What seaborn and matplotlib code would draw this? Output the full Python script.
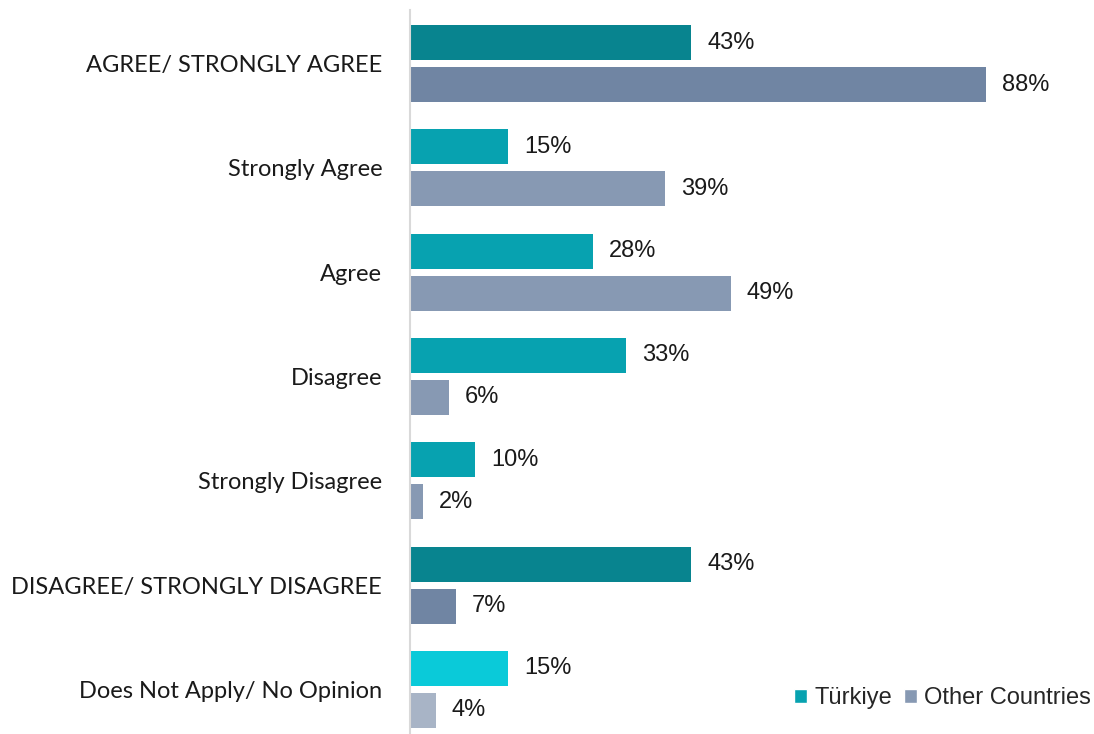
import pandas as pd
import numpy as np
import matplotlib.pyplot as plt
import seaborn as sns
from matplotlib.patches import Patch

categories = ["AGREE/ STRONGLY AGREE", "Strongly Agree", "Agree", "Disagree",
              "Strongly Disagree", "DISAGREE/ STRONGLY DISAGREE", "Does Not Apply/ No Opinion"]
turkiye = [43, 15, 28, 33, 10, 43, 15]
other = [88, 39, 49, 6, 2, 7, 4]
groups = ["Türkiye", "Other Countries"]

turkiye_colors = ["#08848F", "#07A2B0", "#07A2B0", "#07A2B0", "#07A2B0", "#08848F", "#0ACAD9"]
other_colors = ["#7085A3", "#8799B3", "#8799B3", "#8799B3", "#8799B3", "#7085A3", "#A8B4C6"]

df = pd.DataFrame({
    "Category": categories * 2,
    "Value": turkiye + other,
    "Group": [groups[0]] * len(categories) + [groups[1]] * len(categories),
})

sns.set_style("white")
plt.rcParams["font.family"] = ["Liberation Sans", "DejaVu Sans"]
num_font = ["Liberation Sans", "DejaVu Sans"]

fig = plt.figure(figsize=(10.94, 7.34), dpi=100)
ax = fig.add_axes([410 / 1094, 0.0, 1 - 410 / 1094, 1 - 10 / 734])

sns.barplot(data=df, y="Category", x="Value", hue="Group", order=categories,
            hue_order=groups, orient="h", width=0.805, gap=0.167, legend=False, ax=ax)

# per-row colours
for bar, c in zip(ax.containers[0], turkiye_colors):
    bar.set_facecolor(c)
    bar.set_edgecolor("none")
for bar, c in zip(ax.containers[1], other_colors):
    bar.set_facecolor(c)
    bar.set_edgecolor("none")

# value labels
for cont in ax.containers:
    for bar in cont:
        w = bar.get_width()
        ax.text(w + 2.4, bar.get_y() + bar.get_height() / 2, f"{w:.0f}%",
                va="center", ha="left", fontsize=17, color="#1a1a1a", family=num_font)

ax.set_xlim(0, 104.5)
ax.set_ylim(6.427, -0.513)
ax.set_xlabel("")
ax.set_ylabel("")
ax.set_xticks([])
ax.set_yticks(range(len(categories)))
ax.set_yticklabels(categories, fontsize=17, family=["Lato", "DejaVu Sans"], color="#1a1a1a")
ax.tick_params(axis="y", length=0, pad=20)

for s in ["top", "right", "bottom"]:
    ax.spines[s].set_visible(False)
ax.spines["left"].set_color("#D9D9D9")
ax.spines["left"].set_linewidth(1.5)

handles = [Patch(facecolor="#07A2B0", label="Türkiye"),
           Patch(facecolor="#8799B3", label="Other Countries")]
fig.legend(handles=handles, loc="center right", bbox_to_anchor=(1.008, 0.049), ncol=2,
           frameon=False, handlelength=0.55, handleheight=0.55,
           handletextpad=0.3, columnspacing=0.5, borderaxespad=0.1,
           prop={"family": num_font, "size": 17})

fig.savefig("out.png", dpi=100)
